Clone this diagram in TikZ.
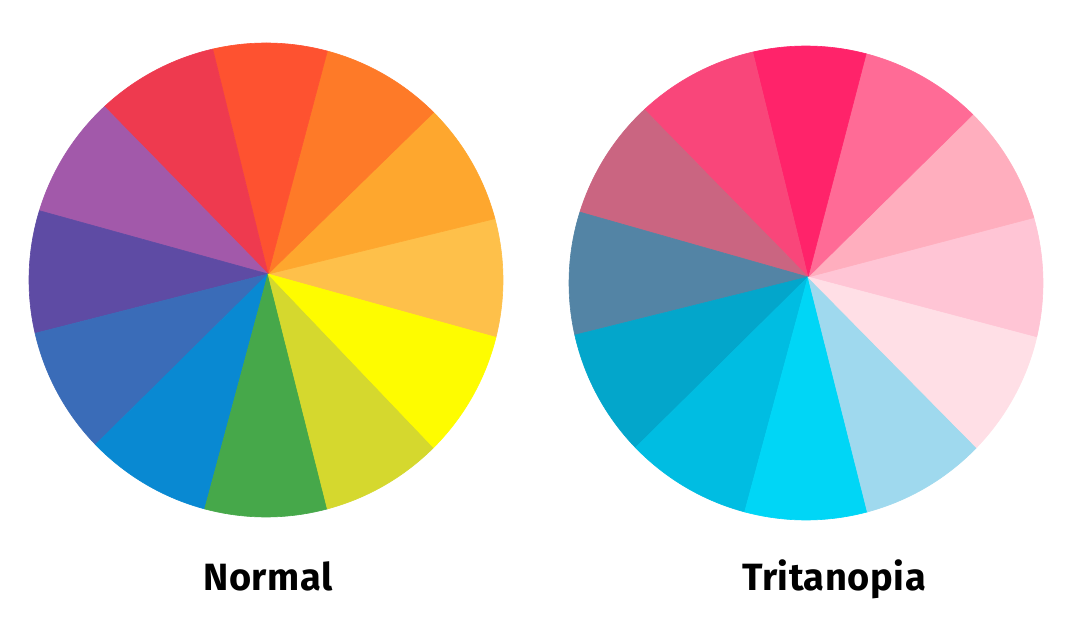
\documentclass[tikz,border=0pt]{standalone}
\usepackage{fontspec}
\newfontfamily\lblfont{Fira Sans}[LetterSpace=1.5]
\usetikzlibrary{calc}
% left wheel colours
\definecolor{L0}{HTML}{FEC04A}
\definecolor{L1}{HTML}{FEA72E}
\definecolor{L2}{HTML}{FE7A28}
\definecolor{L3}{HTML}{FE5230}
\definecolor{L4}{HTML}{EE3A4F}
\definecolor{L5}{HTML}{A259AA}
\definecolor{L6}{HTML}{5E4BA4}
\definecolor{L7}{HTML}{3A6CB8}
\definecolor{L8}{HTML}{0989D2}
\definecolor{L9}{HTML}{46A84A}
\definecolor{L10}{HTML}{D5D82E}
\definecolor{L11}{HTML}{FEFC00}
% right wheel colours
\definecolor{R0}{HTML}{FFC5D5}
\definecolor{R1}{HTML}{FFAEBE}
\definecolor{R2}{HTML}{FF6B96}
\definecolor{R3}{HTML}{FF236A}
\definecolor{R4}{HTML}{F9467A}
\definecolor{R5}{HTML}{CA6581}
\definecolor{R6}{HTML}{5384A5}
\definecolor{R7}{HTML}{03A6CB}
\definecolor{R8}{HTML}{00BDE2}
\definecolor{R9}{HTML}{00D6F6}
\definecolor{R10}{HTML}{9FD9EE}
\definecolor{R11}{HTML}{FFDFE6}
\tikzset{
  wedge/.style={fill=#1, draw=#1, line width=0.6pt, line join=round},
  caption/.style={font=\lblfont\bfseries\fontsize{38}{40}\selectfont, anchor=base, text=black, inner sep=0pt}
}
\begin{document}
\begin{tikzpicture}[x=1pt,y=1pt]
\useasboundingbox (0,0) rectangle (1087,616);
\fill[white] (0,0) rectangle (1087,616);
% left wheel
\coordinate (cL) at (266,336);
\coordinate (aL) at (268,342);
\foreach \a/\b/\c in {-14/15/L0, 15/45/L1, 45/75/L2, 75/103/L3, 103/133/L4, 133/163/L5, 163/193/L6, 193/224/L7, 224/255/L8, 255/285/L9, 285/315/L10, 315/346/L11}
  \path[wedge=\c] (aL) -- ([shift={(\a:237pt)}]cL) arc[start angle=\a, end angle=\b, radius=237pt] -- cycle;
% right wheel
\coordinate (cR) at (806,333);
\coordinate (aR) at (808,339);
\foreach \a/\b/\c in {-13.3/16/R0, 16/45.3/R1, 45.3/75.3/R2, 75.3/103/R3, 103/133/R4, 133/162.6/R5, 162.6/192.7/R6, 192.7/224/R7, 224/255/R8, 255/285/R9, 285/316/R10, 316/346.7/R11}
  \path[wedge=\c] (aR) -- ([shift={(\a:237pt)}]cR) arc[start angle=\a, end angle=\b, radius=237pt] -- cycle;
% captions
\node[caption] (normal) at (268,26) {Normal};
\node[caption] (trit) at (834,26) {Tritanopia};
\end{tikzpicture}
\end{document}
